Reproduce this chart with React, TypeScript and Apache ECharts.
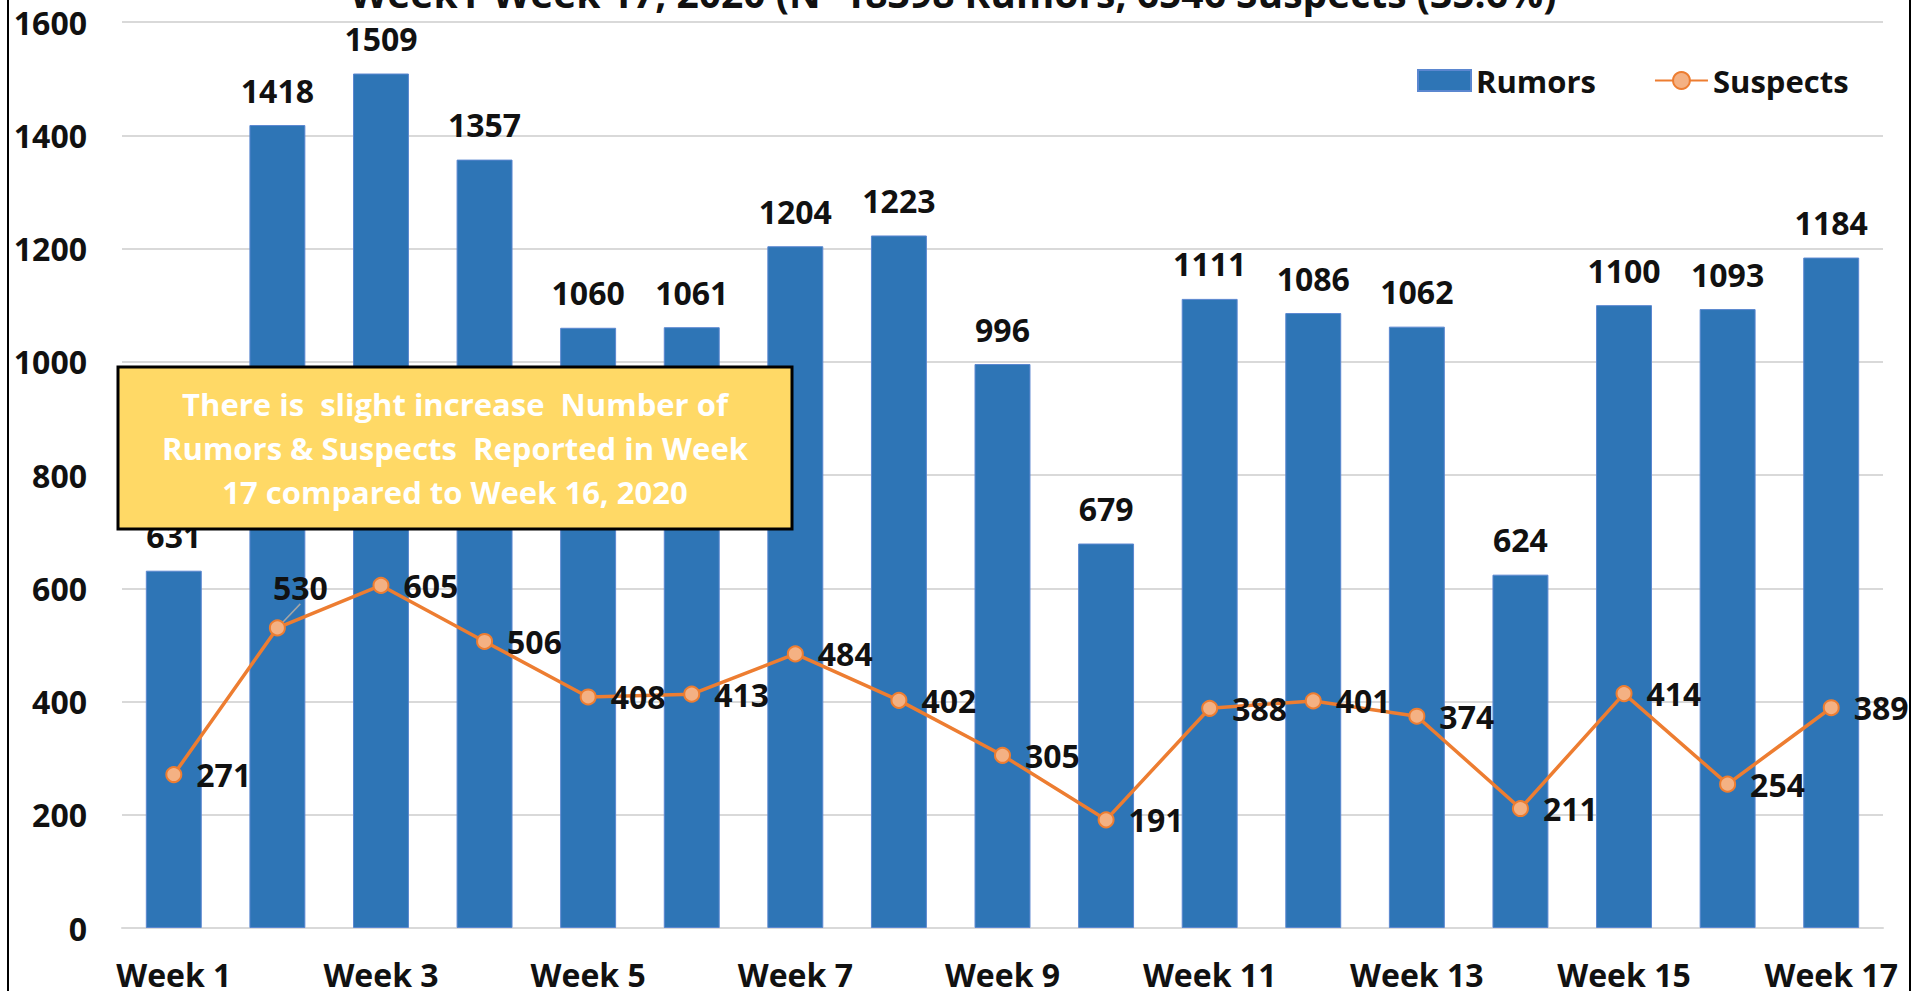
import React, { useEffect, useRef } from "react";
import * as echarts from "echarts";

const weeks = [
  "Week 1", "Week 2", "Week 3", "Week 4", "Week 5", "Week 6", "Week 7", "Week 8", "Week 9",
  "Week 10", "Week 11", "Week 12", "Week 13", "Week 14", "Week 15", "Week 16", "Week 17",
];
const rumors = [631, 1418, 1509, 1357, 1060, 1061, 1204, 1223, 996, 679, 1111, 1086, 1062, 624, 1100, 1093, 1184];
const suspects = [271, 530, 605, 506, 408, 413, 484, 402, 305, 191, 388, 401, 374, 211, 414, 254, 389];
const titleText = "Week1-Week 17, 2020 (N=18398 Rumors, 6546 Suspects (35.6%)";
const noteLines = [
  "There is  slight increase  Number of",
  "Rumors & Suspects  Reported in Week",
  "17 compared to Week 16, 2020",
];

const FONT = "'Open Sans', 'Noto Sans', sans-serif";

export default function App() {
  const ref = useRef<HTMLDivElement>(null);
  useEffect(() => {
    if (!ref.current) return;
    const chart = echarts.init(ref.current, undefined, { renderer: "svg" });
    const lineData = suspects.map((v, i) =>
      i === 1
        ? { value: v, labelLine: { show: true, lineStyle: { color: "#A6A6A6", width: 1.5 } } }
        : v
    );
    chart.setOption({
      animation: false,
      backgroundColor: "#ffffff",
      textStyle: { fontFamily: FONT },
      grid: { left: 122, right: 40, top: 22, bottom: 63, containLabel: false },
      legend: {
        left: 1412,
        top: 60,
        itemWidth: 53,
        itemHeight: 21,
        itemGap: 58,
        textStyle: { fontFamily: FONT, fontWeight: "bold", fontSize: 31, color: "#111" },
        data: [
          { name: "Rumors", icon: "rect" },
          { name: "Suspects" },
        ],
      },
      xAxis: {
        type: "category",
        data: weeks,
        axisTick: { show: false },
        axisLine: { lineStyle: { color: "#D9D9D9", width: 2 } },
        axisLabel: {
          interval: 1,
          margin: 30,
          fontFamily: FONT,
          fontWeight: "bold",
          fontSize: 32,
          color: "#111",
        },
      },
      yAxis: {
        type: "value",
        min: 0,
        max: 1600,
        interval: 200,
        axisLine: { show: false },
        axisTick: { show: false },
        splitLine: { lineStyle: { color: "#D9D9D9", width: 2 } },
        axisLabel: {
          margin: 35,
          formatter: (v: number) => String(v),
          fontFamily: FONT,
          fontWeight: "bold",
          fontSize: 32,
          color: "#111",
        },
      },
      series: [
        {
          name: "Rumors",
          type: "bar",
          data: rumors,
          barWidth: "54%",
          itemStyle: { color: "#2E75B6", borderColor: "#5B87D0", borderWidth: 1 },
          label: {
            show: true,
            position: "top",
            distance: 19,
            fontFamily: FONT,
            fontWeight: "bold",
            fontSize: 32,
            color: "#111",
          },
          z: 2,
        },
        {
          name: "Suspects",
          type: "line",
          data: lineData,
          symbol: "circle",
          symbolSize: 15,
          lineStyle: { color: "#ED7D31", width: 3.5 },
          itemStyle: { color: "#F4B183", borderColor: "#ED7D31", borderWidth: 2 },
          label: {
            show: true,
            position: "right",
            distance: 14,
            fontFamily: FONT,
            fontWeight: "bold",
            fontSize: 32,
            color: "#111",
          },
          labelLine: { show: false },
          labelLayout: (params: any) =>
            params.dataIndex === 1 ? { dx: -27, dy: -40 } : {},
          z: 3,
        },
      ],
      graphic: [
        {
          type: "text",
          x: 953,
          y: -27,
          style: {
            text: titleText,
            fontFamily: FONT,
            fontWeight: "bold",
            fontSize: 39,
            fill: "#111",
            textAlign: "center",
          },
          z: 10,
        },
        {
          type: "rect",
          shape: { x: 118, y: 367, width: 674, height: 162 },
          style: { fill: "#FFD966", stroke: "#000", lineWidth: 3 },
          z: 20,
        },
        {
          type: "text",
          x: 455,
          y: 448,
          style: {
            text: noteLines.join("\n"),
            fontFamily: FONT,
            fontWeight: "bold",
            fontSize: 31,
            lineHeight: 44,
            fill: "#ffffff",
            textAlign: "center",
            textVerticalAlign: "middle",
          },
          z: 21,
        },
        {
          type: "line",
          shape: { x1: 8, y1: 0, x2: 8, y2: 991 },
          style: { stroke: "#000", lineWidth: 2 },
          z: 30,
        },
        {
          type: "line",
          shape: { x1: 1910, y1: 0, x2: 1910, y2: 991 },
          style: { stroke: "#000", lineWidth: 2 },
          z: 30,
        },
      ],
    });
    return () => chart.dispose();
  }, []);
  return (
    <div
      ref={ref}
      style={{ position: "absolute", left: 0, top: 0, width: 1923, height: 991 }}
    />
  );
}
